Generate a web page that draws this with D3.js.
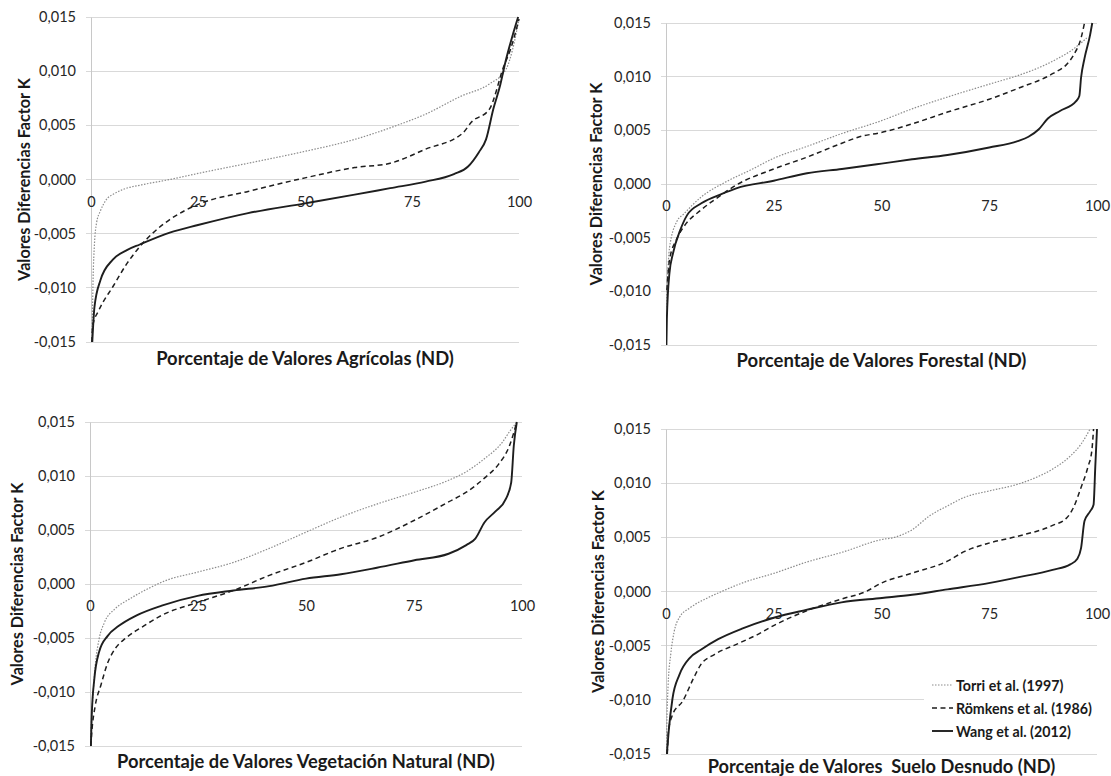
<!DOCTYPE html>
<html><head><meta charset="utf-8">
<script src="https://cdn.jsdelivr.net/npm/d3@7"></script>
<style>
body{margin:0;background:#fff}
svg{display:block}
text{font-family:Lato,"Open Sans",sans-serif}
</style>
</head><body>
<svg id="c" width="1111" height="776"></svg>
<script>
// ---- data ----
const xTicks = [0, 25, 50, 75, 100];
const yTicks = [-0.015, -0.010, -0.005, 0, 0.005, 0.010, 0.015];
const seriesNames = ["Torri et al. (1997)", "Römkens et al. (1986)", "Wang et al. (2012)"];
const xTitles = [
  "Porcentaje de Valores Agrícolas (ND)",
  "Porcentaje de Valores Forestal (ND)",
  "Porcentaje de Valores Vegetación Natural (ND)",
  "Porcentaje de Valores  Suelo Desnudo (ND)"
];
const yTitle = "Valores Diferencias Factor K";

// Agrícolas
const agricolaTorri = [[0.2,-0.015],[0.35,-0.012],[0.5,-0.009],[0.8,-0.006],[1.3,-0.0040],[2.2,-0.0029],[3.5,-0.0019],[5.5,-0.0013],[7.6,-0.0009],[11.8,-0.0005],[18.4,0.0],[25,0.00056],[36.7,0.0015],[50,0.0026],[61.6,0.0037],[71.5,0.005],[78,0.006],[86.5,0.0077],[93,0.0088],[97,0.0102],[98.5,0.012],[100,0.0148]];
const agricolaRomkens = [[0.2,-0.015],[0.4,-0.0135],[1.8,-0.0121],[5.1,-0.0099],[8.5,-0.0077],[11.4,-0.0062],[14.3,-0.005],[18.4,-0.0037],[25,-0.0023],[36.7,-0.0011],[50,0.00015],[61.6,0.0011],[69.9,0.0015],[78.2,0.0028],[86.9,0.0043],[88.9,0.0053],[93.1,0.0065],[96.4,0.0104],[98,0.012],[100,0.0148]];
const agricolaWang = [[0.3,-0.015],[0.8,-0.0118],[2.2,-0.0093],[5.1,-0.0074],[8.5,-0.0065],[11.4,-0.006],[18.4,-0.0049],[25,-0.0042],[36.7,-0.0031],[50,-0.0022],[61.6,-0.0014],[69.9,-0.0008],[78.2,-0.0002],[84.8,0.0005],[88.1,0.0012],[90.6,0.0025],[92.3,0.0037],[94,0.0065],[95.6,0.0087],[96.8,0.0108],[98.5,0.0133],[99.8,0.015]];

// Forestal
const forestalTorri = [[0,-0.0115],[0.3,-0.009],[0.8,-0.006],[2.5,-0.0035],[4.1,-0.0028],[8.2,-0.0012],[13.9,0.0002],[19.6,0.0013],[25,0.0024],[32.7,0.0035],[40.8,0.0047],[50,0.0059],[57.1,0.007],[65.3,0.0081],[75,0.0093],[81.6,0.0101],[85.7,0.0107],[91.4,0.0118],[93.9,0.0124],[97.6,0.0136]];
const forestalRomkens = [[0.2,-0.0099],[0.8,-0.0071],[2.4,-0.0052],[4.1,-0.004],[8.2,-0.0024],[12.2,-0.0012],[16.3,-0.0001],[25,0.0014],[32.7,0.0025],[40.8,0.0038],[44.9,0.0044],[50,0.0048],[57.1,0.0056],[65.3,0.0067],[75,0.0079],[81.6,0.0089],[89.8,0.0103],[93.1,0.0112],[94.7,0.0121],[96.3,0.0136],[97.1,0.015]];
const forestalWang = [[0.1,-0.015],[0.2,-0.0126],[0.8,-0.0083],[1.6,-0.0065],[3.3,-0.0043],[4.9,-0.0029],[8.2,-0.0018],[13.1,-0.0009],[16.3,-0.0004],[25,0.0003],[32.7,0.001],[40.8,0.0014],[50,0.0019],[57.1,0.0023],[65.3,0.0027],[75,0.0034],[81.6,0.004],[84.1,0.0044],[86.5,0.0051],[88.6,0.0061],[91.4,0.0068],[95.1,0.0077],[95.9,0.0082],[96.3,0.0099],[97.1,0.0117],[98.4,0.0139],[98.9,0.015]];

// Vegetación Natural
const vegetacionTorri = [[0.1,-0.0145],[0.4,-0.0122],[1.2,-0.0076],[2.1,-0.0051],[3.3,-0.0036],[5.8,-0.0023],[9.1,-0.0014],[14.1,-0.0003],[17.4,0.0003],[24.9,0.0011],[33.2,0.002],[41.5,0.0033],[50,0.0048],[58.1,0.0062],[66.4,0.0074],[75.1,0.0085],[83,0.0096],[87.1,0.0104],[91.3,0.0116],[95.4,0.0131],[97.1,0.0141],[98.8,0.015]];
const vegetacionRomkens = [[0.2,-0.015],[0.4,-0.0138],[1.2,-0.0113],[2.5,-0.0094],[4.1,-0.0073],[5.8,-0.006],[8.3,-0.005],[12.4,-0.0039],[16.6,-0.0029],[24.9,-0.0017],[33.2,-0.0006],[41.5,0.0008],[50,0.002],[58.1,0.0033],[66.4,0.0043],[75.1,0.0059],[83,0.0076],[87.1,0.0085],[91.3,0.0098],[94.6,0.0111],[97.1,0.0128],[98.8,0.015]];
const vegetacionWang = [[0.2,-0.015],[0.4,-0.0122],[1,-0.0088],[2.1,-0.0063],[4.1,-0.0048],[6.6,-0.0039],[10.8,-0.0029],[16.6,-0.002],[24.9,-0.0011],[33.2,-0.0006],[41.5,-0.0002],[50,0.0005],[58.1,0.0009],[66.4,0.0015],[75.1,0.0022],[83,0.0028],[87.1,0.0036],[89.2,0.0042],[91.3,0.0057],[93.8,0.0067],[96.3,0.0079],[97.5,0.0094],[98.1,0.0128],[98.8,0.015]];

// Suelo Desnudo
const sueloTorri = [[0.1,-0.015],[0.15,-0.0133],[0.5,-0.0086],[1.1,-0.0058],[1.9,-0.0037],[3.1,-0.0024],[5.6,-0.0015],[9.6,-0.0006],[12.9,0.0],[17.8,0.0008],[25.2,0.0017],[32.5,0.0027],[40.7,0.0036],[50.1,0.0048],[53,0.005],[57.1,0.0057],[61.2,0.007],[65.3,0.0079],[69.3,0.0087],[75.2,0.0093],[81.6,0.0099],[85.7,0.0105],[89.7,0.0113],[93.8,0.0125],[96.3,0.0136],[98.4,0.015]];
const sueloRomkens = [[0.3,-0.015],[0.6,-0.0128],[1.5,-0.0114],[3.9,-0.0101],[6.4,-0.008],[8,-0.0068],[11.3,-0.0058],[16.2,-0.0049],[21.1,-0.004],[25.2,-0.0031],[32.5,-0.0018],[40.7,-0.0007],[46.4,0.0],[50.1,0.0008],[57.1,0.0017],[65.3,0.0028],[69.3,0.0037],[75.2,0.0045],[81.6,0.0051],[89.7,0.0061],[93,0.0068],[94.6,0.0078],[96.3,0.0096],[97.9,0.0115],[98.8,0.013],[99.2,0.015]];
const sueloWang = [[0.2,-0.015],[0.6,-0.013],[1.5,-0.0099],[3.1,-0.0077],[5.6,-0.0061],[8,-0.0054],[12.1,-0.0044],[17.8,-0.0034],[25.2,-0.0024],[32.5,-0.0017],[40.7,-0.001],[50.1,-0.0006],[57.1,-0.0003],[65.3,0.0002],[75.2,0.0008],[81.6,0.0013],[89.7,0.002],[93.8,0.0025],[95.4,0.003],[96.3,0.004],[97.1,0.0065],[98.4,0.0074],[99.2,0.008],[99.6,0.0115],[100,0.015]];

// ---- layout ----
const panels = [
  {box:{l:91,r:519,t:17,b:342}, yTitleX:23, xTitleY:358, xTitleW:298, series:[agricolaTorri,agricolaRomkens,agricolaWang], title:xTitles[0]},
  {box:{l:666,r:1097,t:23,b:345}, yTitleX:595, xTitleY:360, xTitleW:290, series:[forestalTorri,forestalRomkens,forestalWang], title:xTitles[1]},
  {box:{l:90,r:522,t:422,b:746}, yTitleX:16, xTitleY:761, xTitleW:378, series:[vegetacionTorri,vegetacionRomkens,vegetacionWang], title:xTitles[2]},
  {box:{l:666,r:1097,t:429,b:754}, yTitleX:597, xTitleY:766, xTitleW:348, series:[sueloTorri,sueloRomkens,sueloWang], title:xTitles[3], legend:true}
];
const styles = [
  {stroke:"#8c8c8c", width:1.2, dash:"1.5,1.5"},
  {stroke:"#1e1e1e", width:1.5, dash:"5,3.5"},
  {stroke:"#1e1e1e", width:1.9, dash:null}
];

const loc = d3.formatLocale({decimal:",", thousands:".", grouping:[3], currency:["","€"], minus:"-"});
const fmt = loc.format(".3f");

const svg = d3.select("#c");

// font size that makes a string reach a given width
function fitSize(str, weight, width) {
  const t = svg.append("text").attr("font-size", "100px").attr("font-weight", weight)
    .style("white-space", "pre").text(str);
  const w = t.node().getComputedTextLength();
  t.remove();
  return 100 * width / w;
}
const tickSize = fitSize("0,015", "normal", 37);
const yTitleSize = fitSize(yTitle, "bold", 203);
const legendSize = fitSize(seriesNames[1], "bold", 136);

panels.forEach((p, i) => {
  const {l, r, t, b} = p.box;
  const x = d3.scaleLinear().domain([0, 100]).range([l, r]);
  const y = d3.scaleLinear().domain([-0.015, 0.015]).range([b, t]);
  const g = svg.append("g");

  // gridlines
  g.append("g").selectAll("line").data(yTicks).join("line")
    .attr("x1", l - 5).attr("x2", r)
    .attr("y1", d => y(d)).attr("y2", d => y(d))
    .attr("stroke", "#d9d9d9").attr("stroke-width", 1).attr("shape-rendering","crispEdges");

  // y axis
  const ya = g.append("g").attr("transform", `translate(${l},0)`)
    .call(d3.axisLeft(y).tickValues(yTicks).tickFormat(fmt).tickSize(0).tickPadding(15));
  ya.select(".domain").attr("stroke", "#c8c8c8").attr("stroke-width", 1);
  ya.selectAll("text").attr("font-size", tickSize + "px").attr("fill", "#262626").attr("font-family","Lato");

  // x axis labels at zero
  const xa = g.append("g").attr("transform", `translate(0,${y(0)})`)
    .call(d3.axisBottom(x).tickValues(xTicks).tickFormat(d3.format("d")).tickSize(0).tickPadding(17));
  xa.select(".domain").remove();
  xa.selectAll("text").attr("font-size", tickSize + "px").attr("fill", "#262626").attr("font-family","Lato");

  // clip
  const cid = "clip" + i;
  svg.append("clipPath").attr("id", cid).append("rect")
    .attr("x", l).attr("y", t - 1).attr("width", r - l + 2).attr("height", b - t + 2);

  const line = d3.line().x(d => x(d[0])).y(d => y(d[1])).curve(d3.curveMonotoneX);
  const lg = g.append("g").attr("clip-path", `url(#${cid})`);
  p.series.forEach((s, k) => {
    lg.append("path").datum(s).attr("d", line)
      .attr("fill", "none").attr("stroke", styles[k].stroke)
      .attr("stroke-width", styles[k].width)
      .attr("stroke-dasharray", styles[k].dash)
      .attr("stroke-linejoin","round");
  });

  // titles
  const xs = fitSize(p.title, "bold", p.xTitleW);
  g.append("text").attr("x", (l + r) / 2).attr("y", p.xTitleY)
    .attr("text-anchor", "middle").attr("dominant-baseline", "central")
    .attr("font-size", xs + "px").attr("font-weight", "bold").attr("fill", "#1a1a1a")
    .style("white-space","pre").text(p.title);
  g.append("text")
    .attr("transform", `translate(${p.yTitleX},${(t + b) / 2}) rotate(-90)`)
    .attr("text-anchor", "middle").attr("dominant-baseline", "central")
    .attr("font-size", yTitleSize + "px").attr("font-weight", "bold").attr("fill", "#1a1a1a")
    .text(yTitle);

  if (p.legend) {
    const legY = [685, 708, 731];
    const leg = g.append("g");
    leg.append("rect").attr("x", 924).attr("y", legY[0] - 13)
      .attr("width", r - 924 + 3).attr("height", legY[2] - legY[0] + 26).attr("fill", "#fff");
    seriesNames.forEach((n, k) => {
      leg.append("line").attr("x1", 932).attr("x2", 953)
        .attr("y1", legY[k]).attr("y2", legY[k])
        .attr("stroke", styles[k].stroke).attr("stroke-width", styles[k].width)
        .attr("stroke-dasharray", styles[k].dash);
      leg.append("text").attr("x", 956).attr("y", legY[k])
        .attr("dominant-baseline", "central")
        .attr("font-size", legendSize + "px").attr("font-weight", "bold").attr("fill", "#1a1a1a")
        .text(n);
    });
  }
});
</script>
</body></html>
